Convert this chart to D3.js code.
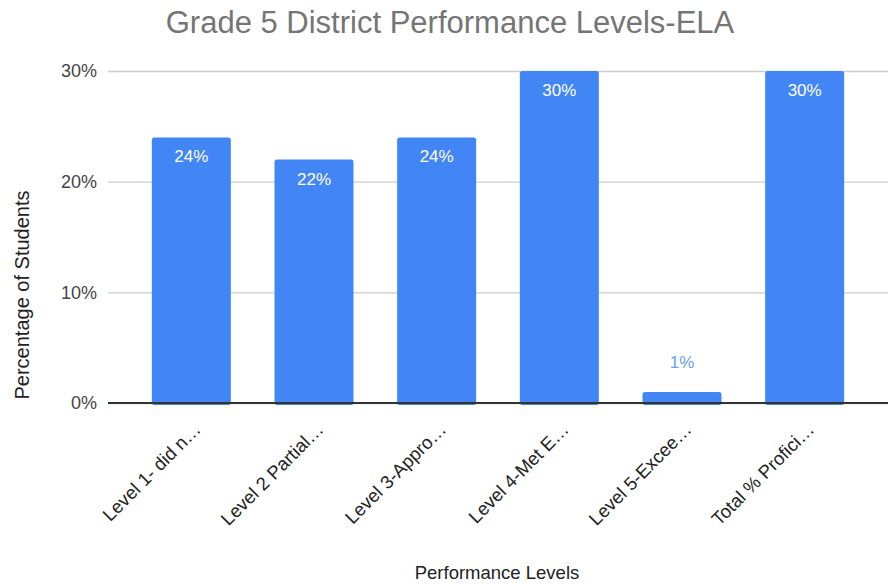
<!DOCTYPE html>
<html><head><meta charset="utf-8">
<script src="https://cdn.jsdelivr.net/npm/d3@7/dist/d3.min.js"></script>
<style>body{margin:0;background:#fff}svg{display:block;font-family:"Liberation Sans",Arial,sans-serif}</style>
</head><body><svg id="c" width="892" height="585"></svg>
<script>
const categories = ["Level 1- did n…","Level 2 Partial…","Level 3-Appro…","Level 4-Met E…","Level 5-Excee…","Total % Profici…"];
const values = [24, 22, 24, 30, 1, 30];
const yTicks = [0, 10, 20, 30];
const title = "Grade 5 District Performance Levels-ELA";
const xTitle = "Performance Levels";
const yTitle = "Percentage of Students";

const svg = d3.select("#c");
const x = d3.scaleBand().domain(categories).range([130, 866]).paddingInner(0.356).paddingOuter(0.178);
const y = d3.scaleLinear().domain([0, 30]).range([403, 71]);

svg.append("text").attr("x", 450).attr("y", 33).attr("text-anchor", "middle")
  .attr("font-size", 31).attr("fill", "#757575").text(title);

const yAxis = svg.append("g").attr("transform", "translate(108,0)")
  .call(d3.axisLeft(y).tickValues(yTicks).tickFormat(d => d + "%").tickSize(-780));
yAxis.select(".domain").remove();
yAxis.selectAll(".tick line").attr("stroke", "#cccccc").attr("stroke-width", 1.3);
yAxis.selectAll(".tick text").attr("x", -11).attr("font-size", 18).attr("fill", "#444")
  .attr("font-family", "Liberation Sans, Arial, sans-serif");

svg.append("g").selectAll("rect").data(values).join("rect")
  .attr("x", (d, i) => x(categories[i])).attr("width", x.bandwidth())
  .attr("y", d => y(d)).attr("height", d => y(0) - y(d) + 2)
  .attr("rx", 2.5).attr("fill", "#4285f4");

svg.append("line").attr("x1", 108).attr("x2", 888).attr("y1", y(0)).attr("y2", y(0))
  .attr("stroke", "#333").attr("stroke-width", 2);

svg.append("g").selectAll("text").data(values).join("text")
  .attr("x", (d, i) => x(categories[i]) + x.bandwidth() / 2)
  .attr("y", d => (y(0) - y(d) > 40) ? y(d) + 25 : y(d) - 24)
  .attr("text-anchor", "middle").attr("font-size", 17)
  .attr("fill", d => (y(0) - y(d) > 40) ? "#ffffff" : "#6a9ff0")
  .text(d => d + "%");

svg.append("g").selectAll("text").data(categories).join("text")
  .attr("transform", d => `translate(${x(d) + x.bandwidth() / 2 + 6},${426}) rotate(-45)`)
  .attr("text-anchor", "end").attr("dy", "0.35em").attr("font-size", 18.5).attr("fill", "#222")
  .text(d => d);

svg.append("text").attr("x", 497).attr("y", 579).attr("text-anchor", "middle")
  .attr("font-size", 18.5).attr("fill", "#222").text(xTitle);

svg.append("text").attr("transform", "translate(29,295) rotate(-90)").attr("text-anchor", "middle")
  .attr("font-size", 20).attr("fill", "#222").text(yTitle);
</script></body></html>
